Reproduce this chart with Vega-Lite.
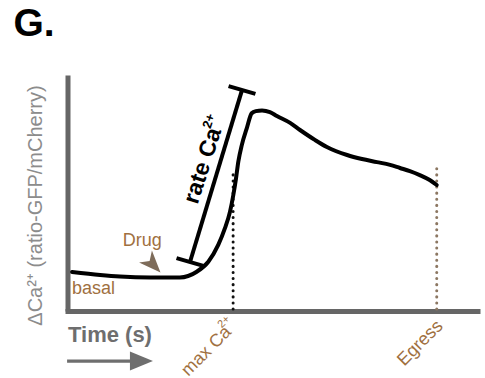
{
  "$schema": "https://vega.github.io/schema/vega-lite/v6.json",
  "width": 410,
  "height": 236,
  "autosize": {"type": "none"},
  "padding": {"left": 67.5, "top": 75, "right": 7.5, "bottom": 67},
  "background": "white",
  "config": {"view": {"stroke": null}, "font": "Liberation Sans"},
  "title": {"text": "G.", "anchor": "start", "frame": "group", "dx": -54, "offset": 31, "fontSize": 39, "fontWeight": "bold", "color": "#000000", "font": "Liberation Sans"},
  "datasets": {
    "curve": [
      {"t": 1.1, "r": 16.5}, {"t": 7.9, "r": 15.25}, {"t": 12.7, "r": 14.6}, {"t": 20.0, "r": 14.2},
      {"t": 27.2, "r": 14.2}, {"t": 31.3, "r": 16.65}, {"t": 34.1, "r": 20.9}, {"t": 36.5, "r": 28.0},
      {"t": 38.1, "r": 35.0}, {"t": 39.35, "r": 42.1}, {"t": 40.15, "r": 49.15}, {"t": 40.8, "r": 56.2},
      {"t": 41.36, "r": 63.3}, {"t": 42.2, "r": 70.3}, {"t": 43.4, "r": 77.4}, {"t": 44.6, "r": 83.8},
      {"t": 45.6, "r": 84.7}, {"t": 47.1, "r": 85.0}, {"t": 49.0, "r": 84.3}, {"t": 50.7, "r": 82.6},
      {"t": 53.9, "r": 79.7}, {"t": 56.3, "r": 76.7}, {"t": 59.9, "r": 72.5}, {"t": 62.8, "r": 69.5},
      {"t": 67.7, "r": 66.1}, {"t": 71.3, "r": 64.4}, {"t": 74.9, "r": 63.1}, {"t": 78.1, "r": 61.9},
      {"t": 80.5, "r": 60.6}, {"t": 82.9, "r": 59.3}, {"t": 85.3, "r": 57.6}, {"t": 87.7, "r": 55.5},
      {"t": 89.4, "r": 53.4}
    ],
    "bracket": [
      {"part": "stem", "t": 29.66, "r": 20.76}, {"part": "stem", "t": 42.25, "r": 93.6},
      {"part": "capLow", "t": 26.4, "r": 22.4}, {"part": "capLow", "t": 32.9, "r": 19.1},
      {"part": "capHigh", "t": 39.0, "r": 95.3}, {"part": "capHigh", "t": 45.5, "r": 92.0}
    ],
    "events": [
      {"event": "max", "t": 40.1, "r": 0.8}, {"event": "max", "t": 40.1, "r": 58.9},
      {"event": "Egress", "t": 89.4, "r": 0.8}, {"event": "Egress", "t": 89.4, "r": 62.6}
    ],
    "drug": [{"label": "Drug", "t": 20.7, "r": 19.7}],
    "drugLabel": [{"label": "Drug", "t": 13.4, "r": 27.7}],
    "basal": [{"label": "basal", "t": 1.1, "r": 7.4}],
    "rate": [{"label": "rate Ca", "t": 31.5, "r": 44.9}],
    "rateSup": [{"label": "2+", "t": 34.25, "r": 80.5}],
    "maxSup": [{"label": "2+", "t": 37.9, "r": -4.66}],
    "timeArrow": [
      {"part": "shaft", "t": -0.1, "r": -21.2}, {"part": "shaft", "t": 17.0, "r": -21.2},
      {"part": "head", "t": 17.9, "r": -21.2}
    ]
  },
  "encoding": {
    "x": {
      "field": "t", "type": "quantitative",
      "scale": {"domain": [0, 99.27], "nice": false, "zero": false},
      "axis": {
        "orient": "bottom", "values": [40.1, 89.4],
        "labelExpr": "datum.value < 60 ? 'max Ca' : 'Egress'",
        "labelAngle": -45, "labelAlign": "right", "labelBaseline": "middle",
        "labelColor": "#a0703f", "labelFontSize": 18, "labelFont": "Liberation Sans",
        "labelPadding": {"condition": {"test": "datum.value < 60", "value": 18}, "value": 12},
        "labelOffset": {"condition": {"test": "datum.value < 60", "value": -5}, "value": 3},
        "labelFlush": false, "labelOverlap": false,
        "ticks": false, "grid": false,
        "domainColor": "#666666", "domainWidth": 5, "domainCap": "square",
        "title": "Time (s)", "titleAnchor": "start", "titleAlign": "left",
        "titleX": 0, "titleY": 30, "titleBaseline": "alphabetic",
        "titleFontSize": 22, "titleFontWeight": "bold", "titleColor": "#6e6e6e", "titleFont": "Liberation Sans"
      }
    },
    "y": {
      "field": "r", "type": "quantitative",
      "scale": {"domain": [0, 100], "nice": false, "zero": false},
      "axis": {
        "orient": "left", "ticks": false, "labels": false, "grid": false,
        "domainColor": "#666666", "domainWidth": 5,
        "title": "ΔCa²⁺ (ratio-GFP/mCherry)", "titleFontSize": 20, "titleFontWeight": "normal",
        "titleColor": "#8c8c8c", "titlePadding": 22, "titleY": 130, "titleFont": "Liberation Sans"
      }
    }
  },
  "layer": [
    {
      "data": {"name": "events"},
      "mark": {"type": "line", "strokeWidth": 3, "strokeDash": [0.1, 6], "strokeCap": "round"},
      "encoding": {
        "detail": {"field": "event"},
        "color": {"field": "event", "type": "nominal", "scale": {"domain": ["max", "Egress"], "range": ["#111111", "#8c7762"]}, "legend": null}
      }
    },
    {
      "data": {"name": "curve"},
      "mark": {"type": "line", "interpolate": "monotone", "color": "#000000", "strokeWidth": 4, "strokeCap": "round", "strokeJoin": "round"},
      "encoding": {}
    },
    {
      "data": {"name": "bracket"},
      "mark": {"type": "line", "color": "#000000", "strokeWidth": 4, "strokeCap": "butt"},
      "encoding": {"detail": {"field": "part"}}
    },
    {
      "data": {"name": "drug"},
      "mark": {"type": "point", "shape": "M1,0L-1,-0.8L-0.45,0L-1,0.8Z", "size": 484, "angle": 47, "filled": true, "color": "#7e6c5a", "opacity": 1},
      "encoding": {}
    },
    {
      "data": {"name": "drugLabel"},
      "mark": {"type": "text", "align": "left", "baseline": "alphabetic", "fontSize": 18, "color": "#a0703f", "font": "Liberation Sans"},
      "encoding": {"text": {"field": "label"}}
    },
    {
      "data": {"name": "basal"},
      "mark": {"type": "text", "align": "left", "baseline": "alphabetic", "fontSize": 18, "color": "#a0703f", "font": "Liberation Sans"},
      "encoding": {"text": {"field": "label"}}
    },
    {
      "data": {"name": "rate"},
      "mark": {"type": "text", "align": "left", "baseline": "alphabetic", "fontSize": 23, "fontWeight": "bold", "angle": -72.2, "color": "#000000", "font": "Liberation Sans"},
      "encoding": {"text": {"field": "label"}}
    },
    {
      "data": {"name": "rateSup"},
      "mark": {"type": "text", "align": "center", "baseline": "middle", "fontSize": 13, "fontWeight": "bold", "angle": -72.2, "color": "#000000", "font": "Liberation Sans"},
      "encoding": {"text": {"field": "label"}}
    },
    {
      "data": {"name": "maxSup"},
      "mark": {"type": "text", "align": "center", "baseline": "middle", "fontSize": 11, "angle": -45, "color": "#a0703f", "font": "Liberation Sans", "clip": false},
      "encoding": {"text": {"field": "label"}}
    },
    {
      "data": {"name": "timeArrow"},
      "transform": [{"filter": "datum.part == 'shaft'"}],
      "mark": {"type": "line", "color": "#6e6e6e", "strokeWidth": 3.3, "clip": false},
      "encoding": {}
    },
    {
      "data": {"name": "timeArrow"},
      "transform": [{"filter": "datum.part == 'head'"}],
      "mark": {"type": "point", "shape": "M-1,-0.83L1,0L-1,0.83Z", "size": 529, "filled": true, "color": "#6e6e6e", "opacity": 1, "clip": false},
      "encoding": {}
    }
  ]
}
